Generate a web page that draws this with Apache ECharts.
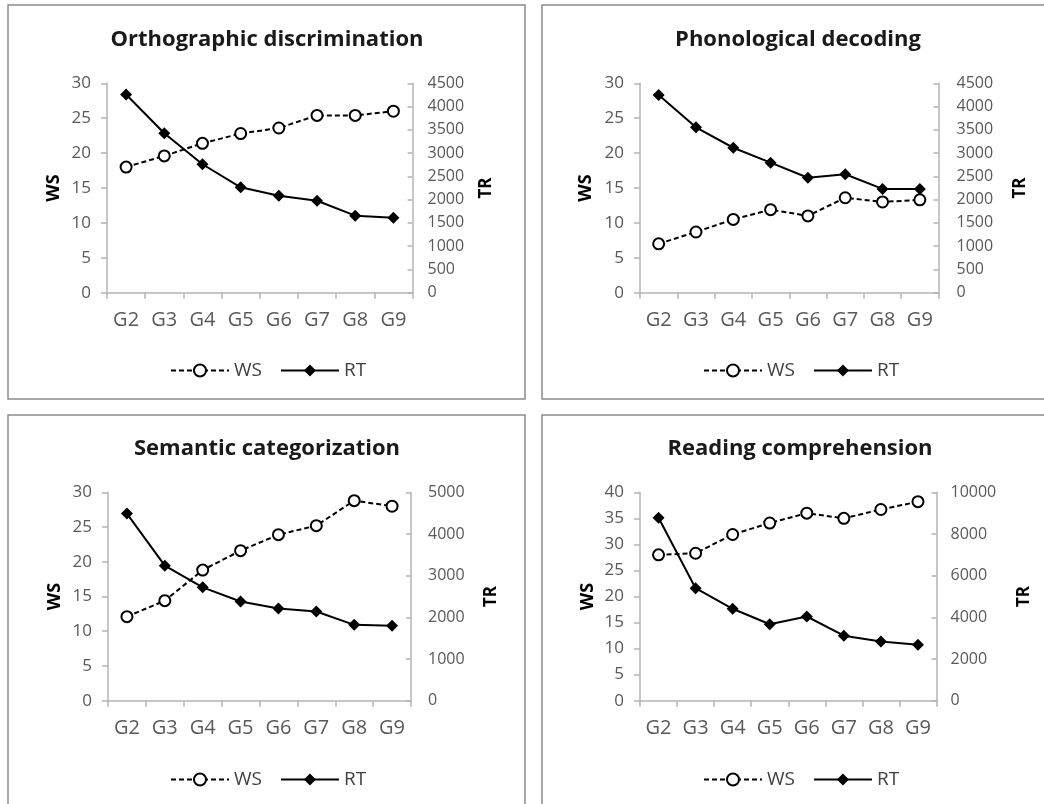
<!DOCTYPE html>
<html>
<head>
<meta charset="utf-8">
<script src="https://cdn.jsdelivr.net/npm/echarts@6/dist/echarts.min.js"></script>
<style>
html,body{margin:0;padding:0;background:#fff;}
#c{width:1044px;height:804px;}
</style>
</head>
<body>
<div id="c"></div>
<script>
const categories = ['G2','G3','G4','G5','G6','G7','G8','G9'];
const titles = ['Orthographic discrimination','Phonological decoding','Semantic categorization','Reading comprehension'];
const orthoWS = [18.0, 19.6, 21.4, 22.8, 23.6, 25.4, 25.4, 26.0];
const orthoRT = [4260, 3425, 2760, 2265, 2085, 1975, 1655, 1610];
const phonoWS = [7.0, 8.7, 10.5, 11.9, 11.0, 13.6, 13.0, 13.3];
const phonoRT = [4250, 3555, 3115, 2795, 2470, 2545, 2230, 2230];
const semWS = [12.1, 14.4, 18.8, 21.6, 23.9, 25.2, 28.8, 28.0];
const semRT = [4490, 3240, 2720, 2380, 2210, 2140, 1820, 1800];
const readWS = [28.0, 28.3, 31.9, 34.1, 36.0, 35.0, 36.7, 38.2];
const readRT = [8780, 5400, 4410, 3670, 4040, 3120, 2840, 2680];
const wsAxes = [[0,30,5],[0,30,5],[0,30,5],[0,40,5]];
const rtAxes = [[0,4500,500],[0,4500,500],[0,5000,1000],[0,10000,2000]];

const wsData = [orthoWS, phonoWS, semWS, readWS];
const rtData = [orthoRT, phonoRT, semRT, readRT];

const FONT = 'Open Sans';
const grids = [
  {left:107, top:83.3, width:305.5, height:209.4},
  {left:640, top:83.3, width:298.5, height:209.4},
  {left:108, top:492.3, width:303, height:208.4},
  {left:640, top:492.3, width:296.5, height:208.4}
];
const titlePos = [[267,40],[798,40],[267,449],[800,449]];
const legendPos = [[170,361],[703,361],[170,770],[703,770]];
const wsGap = [44,45,44,43];
const trGap = [65,73,72,79];
const rightMargin = [15,18,17,14];

const axisLineColor = '#b4b4b4';
const labelColor = '#595959';

const option = {
  animation:false,
  backgroundColor:'#fff',
  textStyle:{fontFamily:FONT},
  graphic:[
    {type:'rect', shape:{x:8,y:5,width:517,height:394}, style:{fill:'none',stroke:'#8c8c8c',lineWidth:1.5}},
    {type:'rect', shape:{x:542,y:5,width:520,height:394}, style:{fill:'none',stroke:'#8c8c8c',lineWidth:1.5}},
    {type:'rect', shape:{x:8,y:415,width:517,height:420}, style:{fill:'none',stroke:'#8c8c8c',lineWidth:1.5}},
    {type:'rect', shape:{x:542,y:415,width:520,height:420}, style:{fill:'none',stroke:'#8c8c8c',lineWidth:1.5}}
  ],
  title: titles.map((t,i)=>({
    text:t, left:titlePos[i][0], top:titlePos[i][1], textAlign:'center', textVerticalAlign:'middle', padding:0,
    textStyle:{fontFamily:FONT, fontSize:22, fontWeight:'bold', color:'#1a1a1a'}
  })),
  legend: titles.map((t,i)=>({
    data:['WS','RT'], left:legendPos[i][0], top:legendPos[i][1], padding:0,
    itemWidth:58, itemHeight:15, itemGap:18, selectedMode:false,
    textStyle:{fontFamily:FONT, fontSize:19, color:'#404040'}
  })),
  grid: grids.map(g=>Object.assign({containLabel:false}, g)),
  xAxis: grids.map((g,i)=>({
    type:'category', gridIndex:i, data:categories, boundaryGap:true,
    axisLine:{lineStyle:{color:axisLineColor, width:1.5}},
    axisTick:{show:true, length:6, lineStyle:{color:axisLineColor, width:1.5}},
    axisLabel:{fontFamily:FONT, fontSize:20, color:labelColor, margin:18},
    splitLine:{show:false}
  })),
  yAxis: [].concat(...grids.map((g,i)=>[
    {
      type:'value', gridIndex:i, position:'left', min:wsAxes[i][0], max:wsAxes[i][1], interval:wsAxes[i][2],
      name:'WS', nameLocation:'middle', nameGap:wsGap[i], nameRotate:90,
      nameTextStyle:{fontFamily:FONT, fontSize:18, fontWeight:'bold', color:'#000'},
      axisLine:{show:true, lineStyle:{color:axisLineColor, width:1.5}},
      axisTick:{show:true, length:6, lineStyle:{color:axisLineColor, width:1.5}},
      axisLabel:{fontFamily:FONT, fontSize:17, color:labelColor, margin:16},
      splitLine:{show:false}
    },
    {
      type:'value', gridIndex:i, position:'right', min:rtAxes[i][0], max:rtAxes[i][1], interval:rtAxes[i][2],
      name:'TR', nameLocation:'middle', nameGap:trGap[i], nameRotate:90,
      nameTextStyle:{fontFamily:FONT, fontSize:17, fontWeight:'bold', color:'#000'},
      axisLine:{show:true, lineStyle:{color:axisLineColor, width:1.5}},
      axisTick:{show:true, inside:true, length:5, lineStyle:{color:axisLineColor, width:1.5}},
      axisLabel:{fontFamily:FONT, fontSize:16, color:labelColor, margin:rightMargin[i], formatter:(v)=>String(v)},
      splitLine:{show:false}
    }
  ])),
  series: [].concat(...grids.map((g,i)=>[
    {
      name:'WS', type:'line', xAxisIndex:i, yAxisIndex:2*i, data:wsData[i],
      symbol:'circle', symbolSize:11, z:3,
      lineStyle:{color:'#000', width:2, type:[5,3]},
      itemStyle:{color:'#fff', borderColor:'#000', borderWidth:2}
    },
    {
      name:'RT', type:'line', xAxisIndex:i, yAxisIndex:2*i+1, data:rtData[i],
      symbol:'diamond', symbolSize:12, z:2,
      lineStyle:{color:'#000', width:2},
      itemStyle:{color:'#000'}
    }
  ]))
};
const chart = echarts.init(document.getElementById('c'));
chart.setOption(option);
</script>
</body>
</html>
